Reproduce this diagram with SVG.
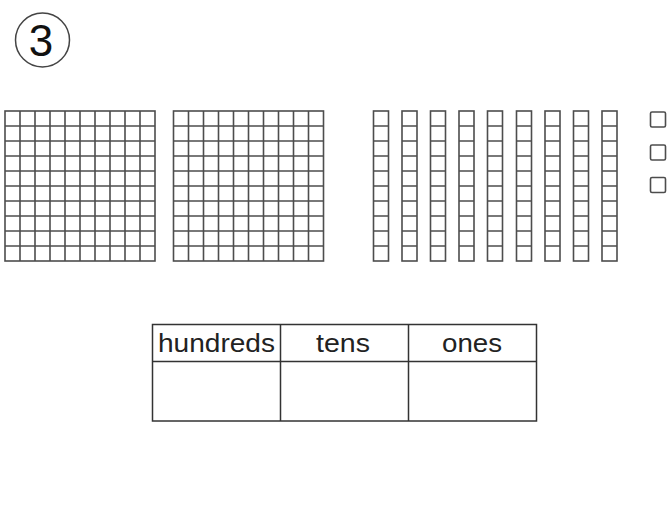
<svg xmlns="http://www.w3.org/2000/svg" xmlns:xlink="http://www.w3.org/1999/xlink" width="667" height="521" viewBox="0 0 667 521">
<style>
.blk{fill:#fff;stroke:#4d4d4d;stroke-width:1.6}
.ln{fill:none;stroke:#4d4d4d;stroke-width:1.6}
.tb{fill:none;stroke:#333;stroke-width:1.5}
.lbl{font-family:"Liberation Sans",Arial,sans-serif;font-size:26px;fill:#222;text-anchor:middle}
</style>
<defs>
<g id="hundred">
<rect class="blk" x="0" y="0" width="150" height="150"/>
<path class="ln" d="M15 0V150M30 0V150M45 0V150M60 0V150M75 0V150M90 0V150M105 0V150M120 0V150M135 0V150M0 15H150M0 30H150M0 45H150M0 60H150M0 75H150M0 90H150M0 105H150M0 120H150M0 135H150"/>
</g>
<g id="ten">
<rect class="blk" x="0" y="0" width="15" height="150"/>
<path class="ln" d="M0 15H15M0 30H15M0 45H15M0 60H15M0 75H15M0 90H15M0 105H15M0 120H15M0 135H15"/>
</g>
<rect id="one" class="blk" x="0" y="0" width="15" height="15" rx="1.5"/>
</defs>
<rect width="667" height="521" fill="#fff"/>
<g id="number">
<circle cx="42.5" cy="40" r="27" fill="none" stroke="#444" stroke-width="1.5"/>
<text x="41" y="55.5" font-family="'Liberation Sans',Arial,sans-serif" font-size="44" fill="#111" text-anchor="middle">3</text>
</g>
<g id="hundreds-blocks">
<use xlink:href="#hundred" x="5" y="111"/>
<use xlink:href="#hundred" x="173.5" y="111"/>
</g>
<g id="tens-rods">
<use xlink:href="#ten" x="373.5" y="111"/>
<use xlink:href="#ten" x="402" y="111"/>
<use xlink:href="#ten" x="430.5" y="111"/>
<use xlink:href="#ten" x="459" y="111"/>
<use xlink:href="#ten" x="487.5" y="111"/>
<use xlink:href="#ten" x="516.5" y="111"/>
<use xlink:href="#ten" x="545" y="111"/>
<use xlink:href="#ten" x="573.5" y="111"/>
<use xlink:href="#ten" x="602" y="111"/>
</g>
<g id="ones-cubes">
<use xlink:href="#one" x="650.5" y="112"/>
<use xlink:href="#one" x="650.5" y="145"/>
<use xlink:href="#one" x="650.5" y="177.5"/>
</g>
<g id="place-value-table">
<rect class="tb" x="152.5" y="324.5" width="384" height="96.5"/>
<path class="tb" d="M152.5 361.5H536.5M280.5 324.5V421M408.5 324.5V421"/>
<text class="lbl" x="216.5" y="352" textLength="117" lengthAdjust="spacingAndGlyphs">hundreds</text>
<text class="lbl" x="343" y="352" textLength="54" lengthAdjust="spacingAndGlyphs">tens</text>
<text class="lbl" x="472" y="352" textLength="60" lengthAdjust="spacingAndGlyphs">ones</text>
</g>
</svg>
